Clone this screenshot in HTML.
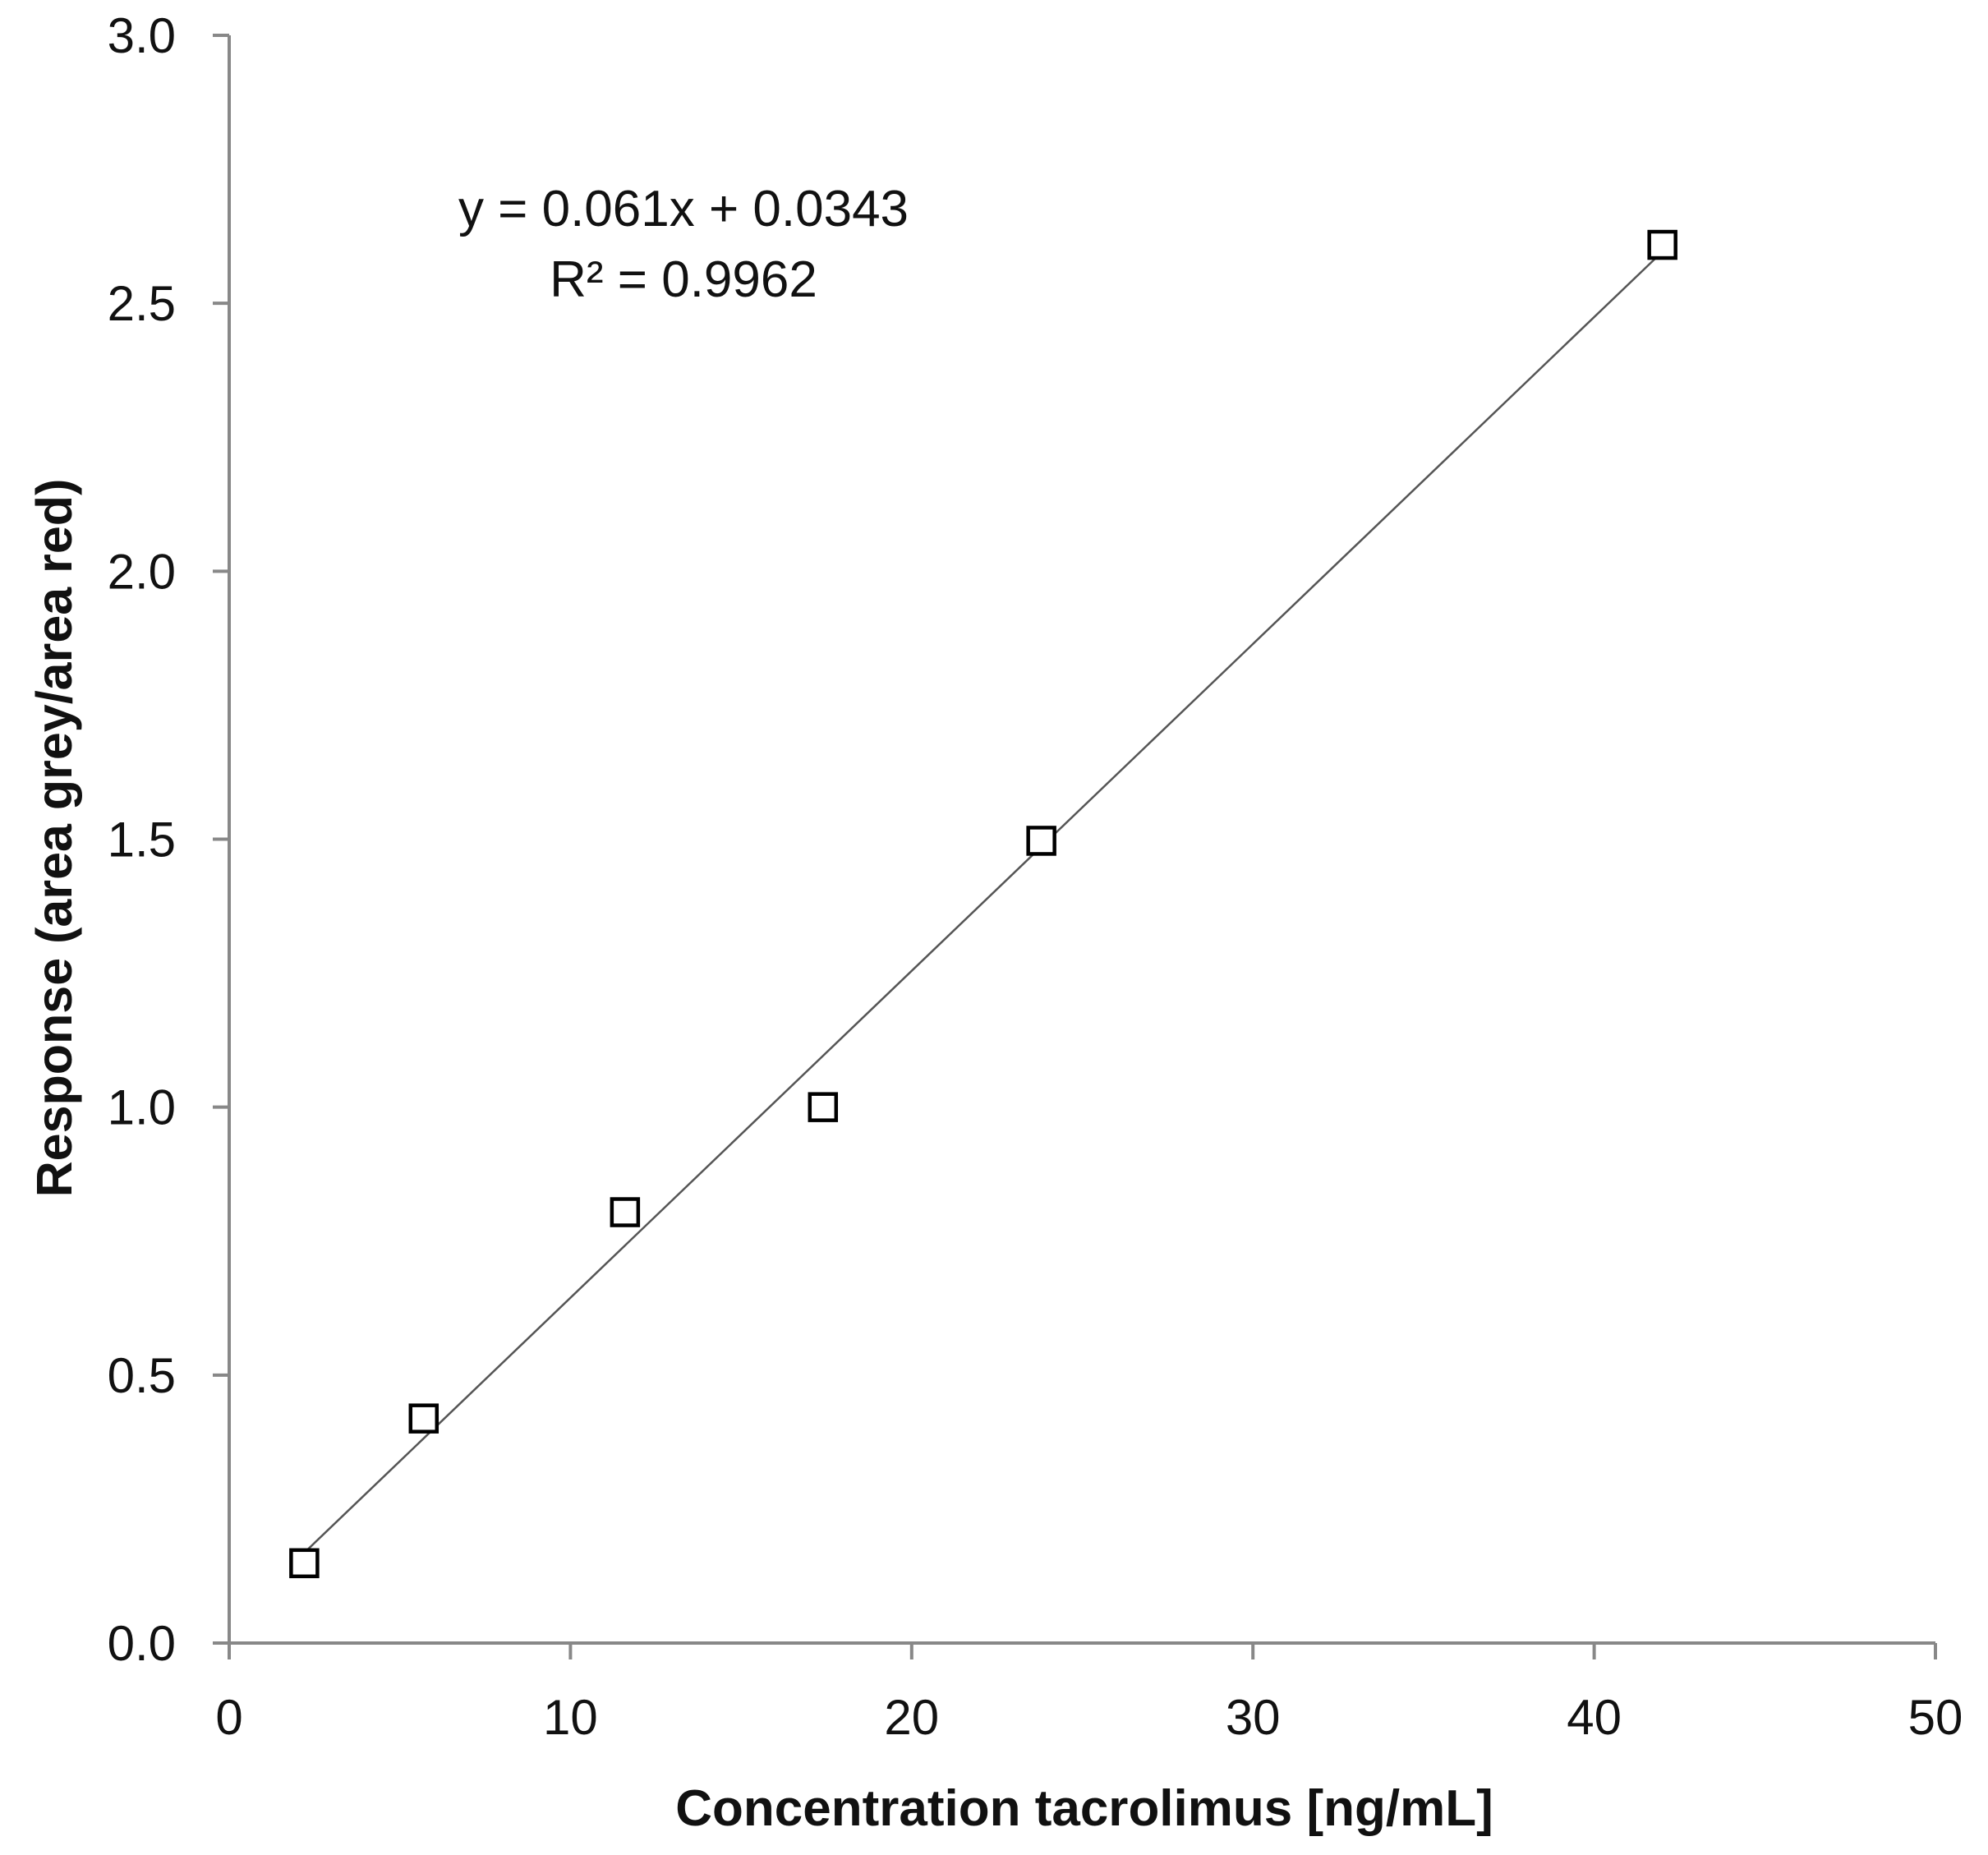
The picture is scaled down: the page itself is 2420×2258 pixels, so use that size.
<!DOCTYPE html>
<html><head><meta charset="utf-8"><style>
html,body{margin:0;padding:0;background:#fff;}
svg{display:block;font-family:"Liberation Sans","DejaVu Sans",sans-serif;}
</style></head><body>
<svg id="chart" width="2420" height="2258" viewBox="0 0 2420 2258" xmlns="http://www.w3.org/2000/svg">
<g id="axes"></g>
<g id="marks"></g>
<text x="832" y="275" font-size="62" text-anchor="middle" fill="#111">y = 0.061x + 0.0343</text>
<text x="832" y="361" font-size="62" text-anchor="middle" fill="#111">R² = 0.9962</text>
<text x="1320" y="2222" font-size="62" font-weight="bold" text-anchor="middle" fill="#111">Concentration tacrolimus [ng/mL]</text>
<text transform="translate(87,1020) rotate(-90)" font-size="61" font-weight="bold" text-anchor="middle" fill="#111">Response (area grey/area red)</text>
</svg>
<script>
const xTicks = [0, 10, 20, 30, 40, 50];
const yTicks = [0.0, 0.5, 1.0, 1.5, 2.0, 2.5, 3.0];
const concentrations = [2.2, 5.7, 11.6, 17.4, 23.8, 42.0];
const responses = [0.149, 0.419, 0.804, 1.0, 1.497, 2.609];
const slope = 0.061;
const intercept = 0.0343;

const NS = "http://www.w3.org/2000/svg";
const X0 = 279, X1 = 2356, Y0 = 2000, Y1 = 43;
function sx(v){ return X0 + (v - 0) / (50 - 0) * (X1 - X0); }
function sy(v){ return Y0 - (v - 0) / (3 - 0) * (Y0 - Y1); }
function mk(tag, attrs, parent){
  const e = document.createElementNS(NS, tag);
  for (const k in attrs) e.setAttribute(k, attrs[k]);
  parent.appendChild(e);
  return e;
}
const axes = document.getElementById('axes');
const marks = document.getElementById('marks');
const ax = "#888";

let yl = mk('line', {x1:X0, y1:Y0, x2:X0, y2:Y1, stroke:ax, 'stroke-width':4}, axes);


let xl = mk('line', {x1:X0-20, y1:Y0, x2:X1, y2:Y0, stroke:ax, 'stroke-width':4}, axes);



yTicks.forEach(v => {
  const y = sy(v);
  const t = mk('line', {x1:X0-20, y1:y, x2:X0, y2:y, stroke:ax, 'stroke-width':4}, axes);
  
  
  const l = mk('text', {x:X0-65, y:y+21, 'font-size':60, 'text-anchor':'end', fill:'#111'}, axes);
  l.textContent = v.toFixed(1);
  
  
});
xTicks.forEach(v => {
  const x = sx(v);
  const t = mk('line', {x1:x, y1:Y0, x2:x, y2:Y0+20, stroke:ax, 'stroke-width':4}, axes);
  
  
  const l = mk('text', {x:x, y:Y0+111, 'font-size':60, 'text-anchor':'middle', fill:'#111'}, axes);
  l.textContent = String(v);
  
  
});

const xmin = Math.min(...concentrations), xmax = Math.max(...concentrations);
const tl = mk('line', {x1:sx(xmin), y1:sy(slope*xmin+intercept), x2:sx(xmax), y2:sy(slope*xmax+intercept), stroke:'#555', 'stroke-width':2.5}, marks);



concentrations.forEach((c, i) => {
  const x = sx(c), y = sy(responses[i]);
  const r = mk('rect', {x:x-16, y:y-16, width:32, height:32, fill:'#fff', stroke:'#000', 'stroke-width':4.5}, marks);
  
  
});
</script>
</body></html>
